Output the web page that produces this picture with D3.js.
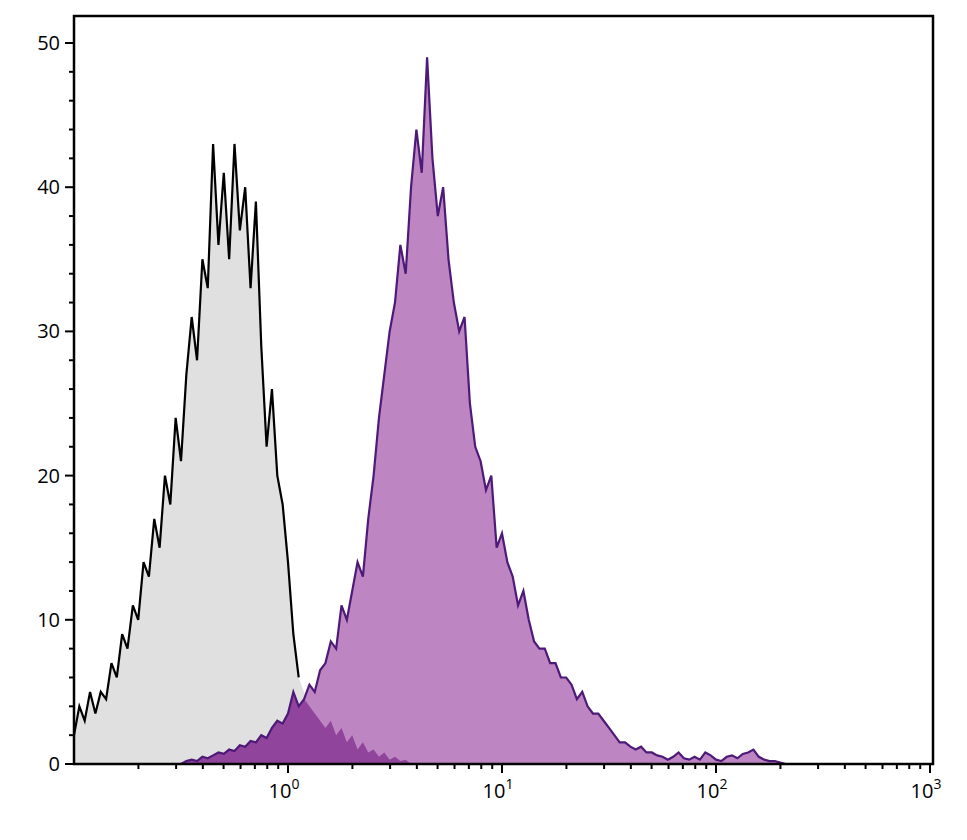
<!DOCTYPE html>
<html>
<head>
<script src="https://d3js.org/d3.v7.min.js"></script>
<style>
body { margin: 0; background: #fff; }
</style>
</head>
<body>
<svg id="chart" width="967" height="840"></svg>
<script>
// bins are in log10 units, step 0.025 decade
var binStep = 0.025;
var grayStart = -1.0;
var grayCounts = [2,4,3,5,3.5,5,4.5,7,6,9,8,11,10,14,13,17,15,20,18,24,21,27,31,28,35,33,43,36,41,35,
  43,37,40,33,39,29,22,26,20,18,14,9,6,5,4,3.5,3,2.5,3,2,2.5,1.5,2,1,1.5,0.8,1,0.5,0.8,0.3,0.5,0.2,0.3,0];
var purpleStart = -0.5;
var purpleCounts = [0,0.2,0.3,0.2,0.5,0.4,0.6,0.8,0.7,1,0.9,1.3,1.2,1.6,1.5,2,1.8,2.5,3,2.8,
  3.5,5,4,4.5,5.5,5,6.5,7,8.5,8,11,10,12,14,13,17,20,24,27,30,32,36,34,40,44,41,49,42,38,40,
  35,32,30,31,25,22,21,19,20,15,16,14,13,11,12,10,8.5,8,8,7,7,6,6,5.5,4.5,5,4,3.5,3.5,3,
  2.5,2,1.5,1.5,1.2,1,1.2,0.8,0.8,0.6,0.5,0.3,0.5,0.8,0.4,0.3,0.5,0.3,0.8,0.6,0.3,0.2,0.5,0.6,
  0.4,0.7,0.8,1,0.5,0.3,0.2,0.2,0.1,0];
var yTicks = [0, 10, 20, 30, 40, 50];
var xDecades = [0, 1, 2, 3];

var svg = d3.select("#chart");
var L = 74, R = 933, T = 16, B = 764;
var x = d3.scaleLinear().domain([-1, 3]).range([74, 930]);
var y = d3.scaleLinear().domain([0, 50]).range([B, 43]);

function toPoints(start, counts) {
  return counts.map((c, i) => [start + i * binStep, c]);
}
var area = d3.area().x(d => x(d[0])).y0(B).y1(d => y(d[1]));
var line = d3.line().x(d => x(d[0])).y(d => y(d[1]));

var g = svg.append("g");
var grayPts = toPoints(grayStart, grayCounts);
var purplePts = toPoints(purpleStart, purpleCounts);
// overlap of the two histograms (same bin grid, offset 20 bins)
var offset = Math.round((purpleStart - grayStart) / binStep);
var overlapPts = purplePts.filter((d, i) => i + offset < grayCounts.length)
  .map((d, i) => [d[0], Math.min(d[1], grayCounts[i + offset])]);

g.append("path").attr("d", area(grayPts)).attr("fill", "#e0e0e0");
g.append("path").attr("d", area(purplePts)).attr("fill", "#b370b8").attr("opacity", 0.85);
g.append("path").attr("d", area(overlapPts)).attr("fill", "#8a3a95").attr("opacity", 0.85);
g.append("path").attr("d", line(grayPts.filter(d => d[0] <= 0.06))).attr("fill", "none")
  .attr("stroke", "#000").attr("stroke-width", 2.2);
g.append("path").attr("d", line(purplePts)).attr("fill", "none")
  .attr("stroke", "#4d1a78").attr("stroke-width", 2.2);

// frame
svg.append("rect").attr("x", L).attr("y", T).attr("width", R - L).attr("height", B - T)
  .attr("fill", "none").attr("stroke", "#000").attr("stroke-width", 2.5);

// y axis ticks
var yMinor = d3.range(0, 52, 2);
svg.selectAll(".ym").data(yMinor).enter().append("line")
  .attr("x1", L).attr("x2", d => d % 10 === 0 ? L - 9 : L - 5)
  .attr("y1", d => y(d)).attr("y2", d => y(d)).attr("stroke", "#000").attr("stroke-width", 2);
svg.selectAll(".yl").data(yTicks).enter().append("text")
  .attr("x", L - 14).attr("y", d => y(d) + 7).attr("text-anchor", "end")
  .attr("font-family", "Open Sans, sans-serif").attr("font-size", 20).text(d => d);

// x axis ticks (log)
var xMinor = [];
for (var dcd = -1; dcd < 3; dcd++) for (var k = 2; k <= 9; k++) xMinor.push(dcd + Math.log10(k));
svg.selectAll(".xm").data(xMinor).enter().append("line")
  .attr("x1", d => x(d)).attr("x2", d => x(d)).attr("y1", B).attr("y2", B + 5)
  .attr("stroke", "#000").attr("stroke-width", 2);
svg.selectAll(".xM").data(xDecades).enter().append("line")
  .attr("x1", d => x(d)).attr("x2", d => x(d)).attr("y1", B).attr("y2", B + 9)
  .attr("stroke", "#000").attr("stroke-width", 2);
var xl = svg.selectAll(".xl").data(xDecades).enter().append("text")
  .attr("x", d => x(d) - 4).attr("y", B + 34).attr("text-anchor", "middle")
  .attr("font-family", "Open Sans, sans-serif").attr("font-size", 20);
xl.append("tspan").text("10");
xl.append("tspan").attr("dy", -9).attr("font-size", 14).text(d => d);
</script>
</body>
</html>
